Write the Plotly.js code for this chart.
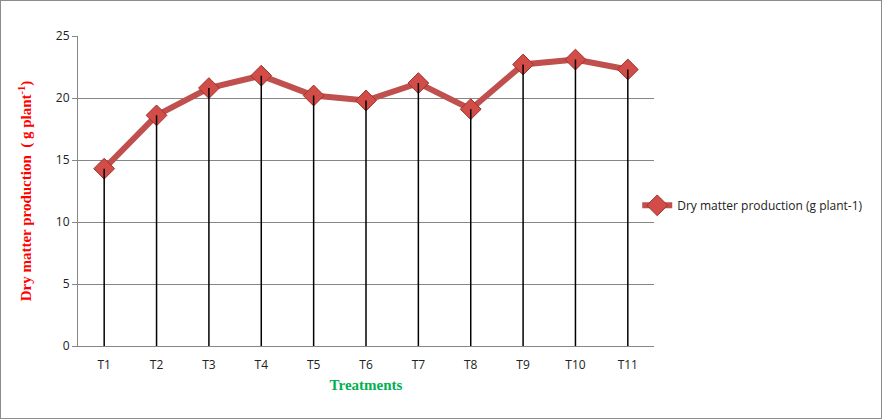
<!DOCTYPE html>
<html><head><meta charset="utf-8">
<script src="https://cdn.plot.ly/plotly-3.0.1.min.js"></script>
<style>
html,body{margin:0;padding:0;background:#fff;}
#chart{width:882px;height:419px;box-sizing:border-box;border:1px solid #8c8c8c;}
</style></head>
<body><div id="chart"></div>
<script>
const categories = ["T1","T2","T3","T4","T5","T6","T7","T8","T9","T10","T11"];
const dryMatter = [14.3, 18.6, 20.8, 21.8, 20.2, 19.8, 21.2, 19.1, 22.7, 23.1, 22.3];
const seriesName = "Dry matter production (g plant-1)";
const yTicks = [0, 5, 10, 15, 20, 25];

// drop lines from each point to zero
const dropX = [], dropY = [];
categories.forEach((c, i) => { dropX.push(c, c, null); dropY.push(0, dryMatter[i], null); });

const traces = [
  {
    x: categories, y: dryMatter, type: 'scatter', mode: 'lines+markers', name: seriesName,
    line: {color: '#C0504D', width: 6},
    marker: {symbol: 'diamond', size: 16, color: '#D24C48', line: {color: '#9A3330', width: 1}}
  },
  {
    x: dropX, y: dropY, type: 'scatter', mode: 'lines', showlegend: false, hoverinfo: 'skip',
    line: {color: '#000000', width: 1.5}
  }
];

const layout = {
  width: 880, height: 417,
  margin: {l: 77, r: 227, t: 35, b: 72, autoexpand: false},
  paper_bgcolor: '#ffffff', plot_bgcolor: '#ffffff',
  showlegend: true,
  legend: {xref: 'container', x: 0.723, xanchor: 'left', yref: 'container', y: 0.51, yanchor: 'middle', font: {family: 'Open Sans, sans-serif', size: 12, color: '#222'}, itemwidth: 30, bgcolor: 'rgba(0,0,0,0)'},
  xaxis: {
    type: 'category', range: [-0.5, 10.5], showgrid: false, zeroline: false,
    showline: true, linecolor: '#868686', linewidth: 1, ticks: 'outside', ticklen: 8, tickcolor: 'rgba(0,0,0,0)',
    tickfont: {family: 'Open Sans, sans-serif', size: 12, color: '#222'},
    title: {text: '<b>Treatments</b>', font: {family: 'Liberation Serif, serif', size: 15, color: '#00B050'}, standoff: 7}
  },
  yaxis: {
    range: [0, 25], tickvals: yTicks, ticktext: yTicks.map(String),
    showgrid: true, gridcolor: '#868686', gridwidth: 1, zeroline: false,
    showline: true, linecolor: '#868686', linewidth: 1, ticks: 'outside', ticklen: 5, tickcolor: '#868686',
    tickfont: {family: 'Open Sans, sans-serif', size: 12, color: '#222'},
    title: {text: '<b>Dry matter production  ( g plant<sup>-1</sup>)</b>', font: {family: 'Liberation Serif, serif', size: 15, color: '#FF0000'}, standoff: 20}
  }
};
Plotly.newPlot('chart', traces, layout, {displayModeBar: false, staticPlot: true});
</script></body></html>
